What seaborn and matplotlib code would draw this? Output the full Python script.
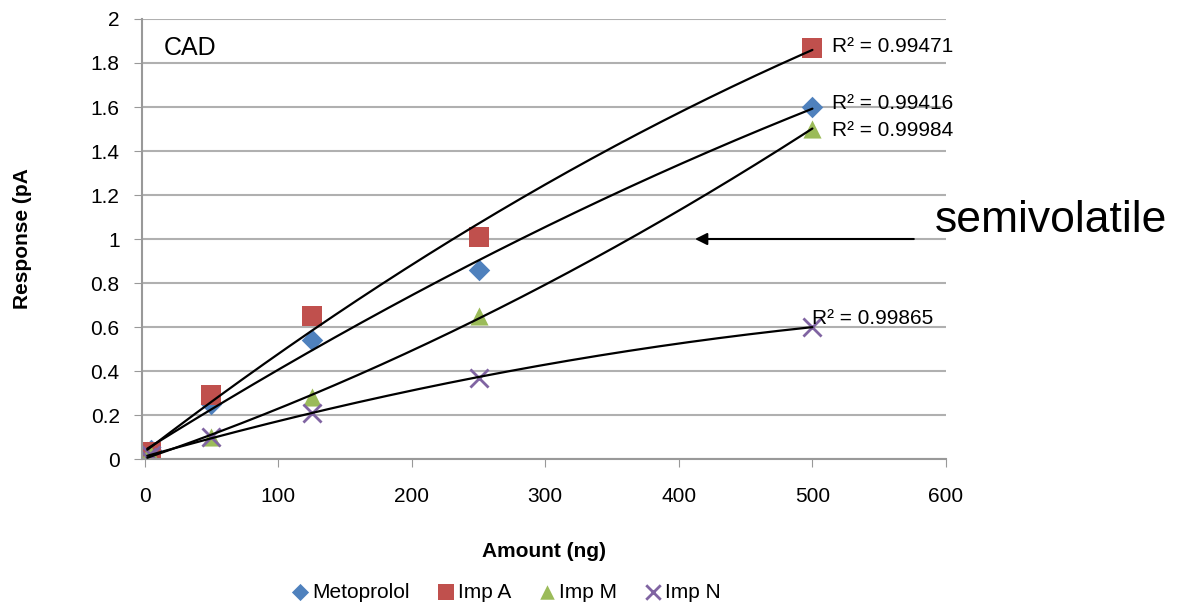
import numpy as np
import pandas as pd
import matplotlib
matplotlib.use("Agg")
import matplotlib.pyplot as plt
import seaborn as sns

sns.set_style("white")
plt.rcParams['font.family'] = ['Liberation Sans', 'DejaVu Sans']
plt.rcParams['text.color'] = 'black'
plt.rcParams['xtick.color'] = 'black'
plt.rcParams['ytick.color'] = 'black'
plt.rcParams['axes.labelcolor'] = 'black'

# data
amount = [2, 5, 50, 125, 250, 500]
metoprolol = [0.03, 0.04, 0.25, 0.54, 0.86, 1.60]
imp_a = [0.02, 0.03, 0.29, 0.65, 1.01, 1.87]
imp_m = [0.01, 0.02, 0.10, 0.28, 0.65, 1.50]
imp_n = [0.01, 0.02, 0.10, 0.21, 0.37, 0.60]
names = ["Metoprolol", "Imp A", "Imp M", "Imp N"]

colors = {"Metoprolol": "#4F81BD", "Imp A": "#C0504D", "Imp M": "#9BBB59", "Imp N": "#8064A2"}
markers = {"Metoprolol": "D", "Imp A": "s", "Imp M": "^", "Imp N": "x"}
sizes = {"Metoprolol": 120, "Imp A": 190, "Imp M": 170, "Imp N": 170}

series = [metoprolol, imp_a, imp_m, imp_n]
df = pd.concat([pd.DataFrame({"Amount": amount, "Response": v, "Compound": n})
                for n, v in zip(names, series)])

fig = plt.figure(figsize=(11.89, 6.05), dpi=100)
ax = fig.add_axes([0.1194, 0.2413, 0.6762, 0.7273])

# trendlines (2nd order polynomial, like Excel)
xs = np.linspace(min(amount), max(amount), 200)
for n, v in zip(names, series):
    c = np.polyfit(amount, v, 2)
    ax.plot(xs, np.polyval(c, xs), color="black", lw=1.6, zorder=3)

for n in names:
    sub = df[df.Compound == n]
    kw = dict(linewidth=2) if markers[n] == "x" else dict(linewidth=0)
    sns.scatterplot(data=sub, x="Amount", y="Response", ax=ax, color=colors[n],
                    marker=markers[n], s=sizes[n], label=n, zorder=2, **kw)

# R² labels
ax.text(515, 1.873, "R² = 0.99471", fontsize=15, va="center", ha="left")
ax.text(515, 1.618, "R² = 0.99416", fontsize=15, va="center", ha="left")
ax.text(515, 1.495, "R² = 0.99984", fontsize=15, va="center", ha="left")
ax.text(500, 0.640, "R² = 0.99865", fontsize=15, va="center", ha="left")
ax.text(14, 1.87, "CAD", fontsize=18, va="center", ha="left")

ax.set_xlim(-2, 600)
ax.set_ylim(0, 2)
ax.set_xticks(range(0, 601, 100))
ax.set_yticks(np.arange(0, 2.01, 0.2))
ax.set_yticklabels(["0", "0.2", "0.4", "0.6", "0.8", "1", "1.2", "1.4", "1.6", "1.8", "2"])
ax.tick_params(axis="both", labelsize=15)
ax.tick_params(axis="x", direction="out", length=6, color="#999999", bottom=True, pad=14)
ax.tick_params(axis="y", length=6, color="#999999", left=True, direction="out", pad=10)
ax.grid(axis="y", color="#b0b0b0", lw=1.5)
ax.set_axisbelow(True)
for s in ["top", "right"]:
    ax.spines[s].set_visible(False)
for s in ["left", "bottom"]:
    ax.spines[s].set_color("#999999")
    ax.spines[s].set_linewidth(1.5)

ax.set_xlabel("Amount (ng)", fontsize=15, fontweight="bold", labelpad=26)
ax.set_ylabel("Response (pA", fontsize=15, fontweight="bold", labelpad=42)

ax.legend_.remove()
handles, labels = ax.get_legend_handles_labels()
fig.legend(handles, labels, loc="center", bbox_to_anchor=(0.425, 0.021), ncol=4,
           frameon=False, fontsize=15, handletextpad=0.1, columnspacing=1.2,
           handlelength=1.0, markerscale=0.8)

# annotation
fig.text(0.786, 0.636, "semivolatile", fontsize=32, va="center", ha="left")
ax.annotate("", xy=(410, 1.0), xytext=(578, 1.0), annotation_clip=False,
            arrowprops=dict(arrowstyle="-|>", color="black", lw=1.5, mutation_scale=18))

fig.savefig("out.png", dpi=100)
